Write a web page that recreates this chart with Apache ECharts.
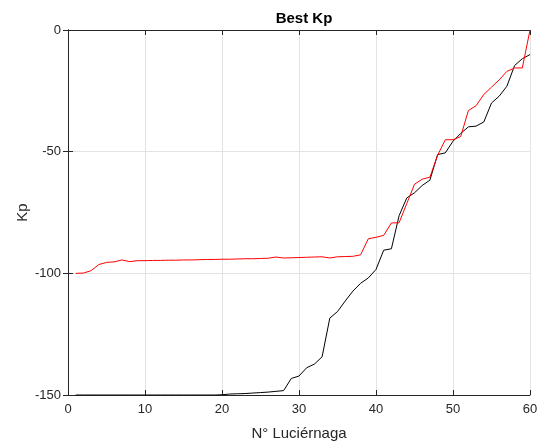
<!DOCTYPE html>
<html>
<head>
<meta charset="utf-8">
<script src="https://cdn.jsdelivr.net/npm/echarts@6/dist/echarts.min.js"></script>
<style>
  html, body { margin: 0; padding: 0; background: #fff; }
  #chart { width: 545px; height: 446px; }
</style>
</head>
<body>
<div id="chart"></div>
<script>
// Firefly index (1..60)
const fireflies = Array.from({ length: 60 }, (_, i) => i + 1);

// Best Kp per firefly, red run
const kpRed = [
  -100.0, -99.9, -98.9, -96.4, -95.5, -95.3, -94.5, -95.2, -94.8, -94.8,
  -94.7, -94.7, -94.6, -94.6, -94.5, -94.5, -94.4, -94.3, -94.3, -94.2,
  -94.2, -94.1, -94.0, -94.0, -93.9, -93.8, -93.3, -93.7, -93.6, -93.5,
  -93.4, -93.3, -93.2, -93.7, -93.2, -93.1, -93.0, -92.4, -85.8, -85.2,
  -84.4, -79.3, -79.2, -71.3, -63.4, -61.3, -60.5, -51.5, -45.1, -45.1,
  -43.8, -33.1, -31.1, -26.5, -23.5, -20.5, -17.0, -15.6, -15.6, 0.0
];

// Best Kp per firefly, black run
const kpBlack = [
  -150.0, -150.0, -150.0, -150.0, -150.0, -150.0, -150.0, -150.0, -150.0, -150.0,
  -150.0, -150.0, -150.0, -150.0, -150.0, -150.0, -150.0, -150.0, -150.0, -149.9,
  -149.6, -149.5, -149.4, -149.2, -149.0, -148.8, -148.5, -148.2, -143.2, -142.2,
  -138.8, -137.3, -134.3, -118.4, -115.7, -111.4, -107.3, -104.1, -101.9, -98.4,
  -90.5, -89.9, -76.3, -69.0, -66.9, -63.9, -61.7, -51.2, -50.5, -45.7,
  -42.5, -39.8, -39.5, -37.8, -30.0, -27.2, -23.1, -14.6, -11.8, -10.1
];

const xTicks = { min: 0, max: 60, interval: 10 };
const yTicks = { min: -150, max: 0, interval: 50 };

const axisColor = '#262626';
const gridColor = '#e3e3e3';
const font = 'Arial, "Liberation Sans", Helvetica, sans-serif';

const pairs = ys => fireflies.map((x, i) => [x, ys[i]]);

const chart = echarts.init(document.getElementById('chart'), null, { renderer: 'canvas' });

const boxAxis = {
  axisLine: { show: true, lineStyle: { color: axisColor, width: 1 } },
  axisTick: { show: true, inside: true, length: 5, lineStyle: { color: axisColor, width: 1 } },
  axisLabel: { show: false },
  splitLine: { show: false }
};

chart.setOption({
  animation: false,
  backgroundColor: '#ffffff',
  title: {
    text: 'Best Kp',
    left: 299,
    top: 6,
    textAlign: 'center',
    textStyle: { fontFamily: font, fontSize: 15, fontWeight: 'bold', color: '#000' }
  },
  grid: { left: 68, right: 15, top: 30, bottom: 51, containLabel: false },
  xAxis: [
    {
      type: 'value', position: 'bottom',
      min: xTicks.min, max: xTicks.max, interval: xTicks.interval,
      name: 'N° Luciérnaga', nameLocation: 'middle', nameGap: 31,
      nameTextStyle: { fontFamily: font, fontSize: 15, color: axisColor },
      axisLine: { show: true, onZero: false, lineStyle: { color: axisColor, width: 1 } },
      axisTick: { show: true, inside: true, length: 5, lineStyle: { color: axisColor } },
      axisLabel: { fontFamily: font, fontSize: 13, color: axisColor, margin: 8 },
      splitLine: { show: true, lineStyle: { color: gridColor, width: 1 } }
    },
    Object.assign({ type: 'value', position: 'top', min: xTicks.min, max: xTicks.max, interval: xTicks.interval }, boxAxis)
  ],
  yAxis: [
    {
      type: 'value', position: 'left',
      min: yTicks.min, max: yTicks.max, interval: yTicks.interval,
      name: 'Kp', nameLocation: 'middle', nameGap: 38, nameRotate: 90,
      nameMoveOverlap: false,
      nameTextStyle: { fontFamily: font, fontSize: 15, color: axisColor },
      axisLine: { show: true, onZero: false, lineStyle: { color: axisColor, width: 1 } },
      axisTick: { show: true, inside: true, length: 5, lineStyle: { color: axisColor } },
      axisLabel: { fontFamily: font, fontSize: 13, color: axisColor, margin: 7 },
      splitLine: { show: true, lineStyle: { color: gridColor, width: 1 } }
    },
    Object.assign({ type: 'value', position: 'right', min: yTicks.min, max: yTicks.max, interval: yTicks.interval }, boxAxis)
  ],
  series: [
    {
      type: 'line', data: pairs(kpBlack), showSymbol: false, symbol: 'none',
      lineStyle: { color: '#000000', width: 1 }, z: 3
    },
    {
      type: 'line', data: pairs(kpRed), showSymbol: false, symbol: 'none',
      lineStyle: { color: '#ff0000', width: 1 }, z: 4
    }
  ]
});
</script>
</body>
</html>
